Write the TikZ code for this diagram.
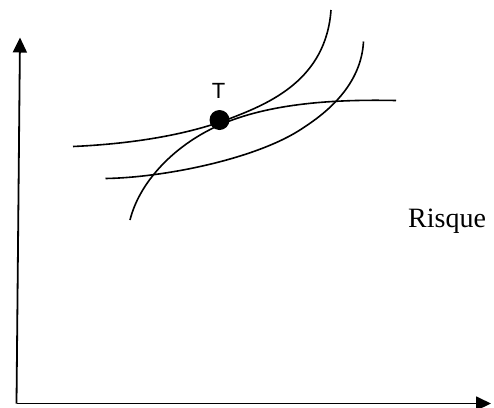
\documentclass[tikz,border=0pt]{standalone}
\usepackage{fontspec}
\setmainfont{Liberation Serif}
\newfontfamily\sanslabel{Liberation Sans}
\usetikzlibrary{arrows.meta}

\begin{document}
\begin{tikzpicture}[x=1pt,y=-1pt,
			axe/.style={line width=1.8pt,-{Triangle[length=15pt,width=14pt]}},
			courbe/.style={line width=1.6pt}]
			\useasboundingbox (0,0) rectangle (494,407);
			\coordinate (O) at (16.5,403.5);
			\coordinate (ytop) at (20,37.5);
			\coordinate (xend) at (491,403.5);
			\draw[axe] (O) -- (ytop);
			\draw[axe] (O) -- (xend);
			% courbes
			\draw[courbe] (73,146.5) .. controls (150,143) and (200,130) .. (230,118.5) .. controls (269,103.5) and (326,80) .. (331,10);
			\draw[courbe] (130,220) .. controls (140,180) and (177,143) .. (222,124) .. controls (276,101.2) and (345,99.5) .. (396,100.5);
			\draw[courbe] (105.5,178.5) .. controls (165,177.5) and (258,158.5) .. (303,128) .. controls (318,118) and (361,90) .. (363.5,41.5);
			\node[circle,fill=black,inner sep=0pt,minimum size=20pt] (T) at (219.5,120) {};
			\node[font=\sanslabel\fontsize{22}{26}\selectfont] (Tlabel) at (218.5,91) {T};
			\node[anchor=base west,inner sep=0pt,font=\fontsize{28}{32}\selectfont] (risque) at (408,227) {Risque};
\end{tikzpicture}
\end{document}
